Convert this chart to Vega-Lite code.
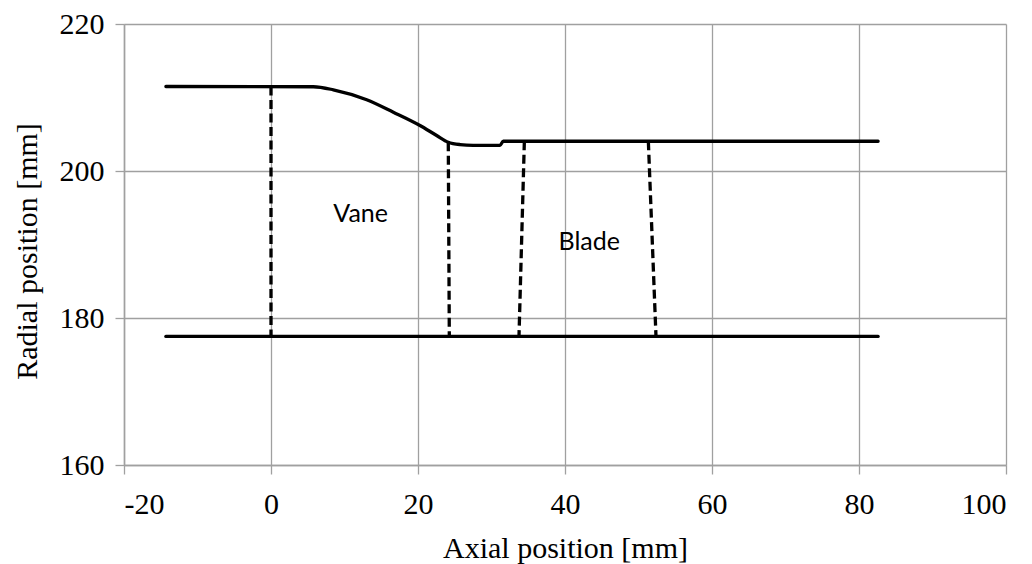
{
  "$schema": "https://vega.github.io/schema/vega-lite/v6.json",
  "width": 882,
  "height": 441,
  "autosize": {"type": "none"},
  "padding": {"left": 124, "top": 24, "right": 26, "bottom": 99},
  "background": "white",
  "config": {
    "view": {"stroke": null},
    "axis": {
      "gridColor": "#a0a0a0",
      "gridWidth": 1.3,
      "domainColor": "#a0a0a0",
      "domainWidth": 1.5,
      "tickColor": "#a0a0a0",
      "tickWidth": 1.3,
      "tickSize": 9,
      "labelFont": "Liberation Serif",
      "labelFontSize": 30,
      "labelColor": "#000000",
      "titleFont": "Liberation Serif",
      "titleFontSize": 30,
      "titleFontWeight": "normal",
      "titleColor": "#000000"
    }
  },
  "datasets": {
    "lines": [
      {"g": "shroud", "o": 1, "x": -14.3, "y": 211.5},
      {"g": "shroud", "o": 2, "x": 5.76, "y": 211.46},
      {"g": "shroud", "o": 3, "x": 8.48, "y": 211.05},
      {"g": "shroud", "o": 4, "x": 13.02, "y": 209.69},
      {"g": "shroud", "o": 5, "x": 16.64, "y": 208.0},
      {"g": "shroud", "o": 6, "x": 20.27, "y": 206.19},
      {"g": "shroud", "o": 7, "x": 22.54, "y": 204.83},
      {"g": "shroud", "o": 8, "x": 24.12, "y": 203.92},
      {"g": "shroud", "o": 9, "x": 25.71, "y": 203.6},
      {"g": "shroud", "o": 10, "x": 27.5, "y": 203.5},
      {"g": "shroud", "o": 11, "x": 31.16, "y": 203.5},
      {"g": "shroud", "o": 12, "x": 31.6, "y": 204.05},
      {"g": "shroud", "o": 13, "x": 82.6, "y": 204.05},
      {"g": "hub", "o": 1, "x": -14.3, "y": 177.5},
      {"g": "hub", "o": 2, "x": 82.6, "y": 177.5}
    ],
    "dashes": [
      {"g": "vaneLE", "o": 1, "x": 0, "y": 211.5},
      {"g": "vaneLE", "o": 2, "x": 0, "y": 177.5},
      {"g": "vaneTE", "o": 1, "x": 24.12, "y": 203.92},
      {"g": "vaneTE", "o": 2, "x": 24.26, "y": 177.5},
      {"g": "bladeLE", "o": 1, "x": 34.47, "y": 204.05},
      {"g": "bladeLE", "o": 2, "x": 33.74, "y": 177.5},
      {"g": "bladeTE", "o": 1, "x": 51.34, "y": 204.05},
      {"g": "bladeTE", "o": 2, "x": 52.38, "y": 177.5}
    ],
    "labels": [
      {"label": "Vane", "x": 12.2, "y": 193.1},
      {"label": "Blade", "x": 43.3, "y": 189.3}
    ]
  },
  "layer": [
    {
      "data": {"name": "dashes"},
      "mark": {"type": "line", "color": "#000000", "strokeWidth": 3.3, "strokeDash": [9, 4.5], "strokeCap": "butt"},
      "encoding": {
        "x": {
          "field": "x", "type": "quantitative",
          "scale": {"domain": [-20, 100], "nice": false, "zero": false},
          "axis": {"values": [-20, 0, 20, 40, 60, 80, 100], "labelExpr": "toString(datum.value)", "title": "Axial position [mm]", "labelBaseline": "alphabetic", "labelPadding": 39, "titleBaseline": "alphabetic", "titleY": 92, "titlePadding": 0}
        },
        "y": {
          "field": "y", "type": "quantitative",
          "scale": {"domain": [160, 220], "nice": false, "zero": false},
          "axis": {"values": [160, 180, 200, 220], "title": "Radial position [mm]", "labelPadding": 11, "titleAngle": -90, "titleX": -97, "titleY": 227, "titleAlign": "center", "titleBaseline": "middle"}
        },
        "detail": {"field": "g"},
        "order": {"field": "o", "type": "quantitative"}
      }
    },
    {
      "data": {"name": "lines"},
      "mark": {"type": "line", "color": "#000000", "strokeWidth": 3.3, "strokeCap": "round", "strokeJoin": "round", "interpolate": "monotone"},
      "encoding": {
        "x": {"field": "x", "type": "quantitative"},
        "y": {"field": "y", "type": "quantitative"},
        "detail": {"field": "g"},
        "order": {"field": "o", "type": "quantitative"}
      }
    },
    {
      "data": {"name": "labels"},
      "mark": {"type": "text", "font": "Lato", "fontSize": 25, "color": "#000000", "align": "center", "baseline": "alphabetic"},
      "encoding": {
        "x": {"field": "x", "type": "quantitative"},
        "y": {"field": "y", "type": "quantitative"},
        "text": {"field": "label"}
      }
    }
  ]
}
